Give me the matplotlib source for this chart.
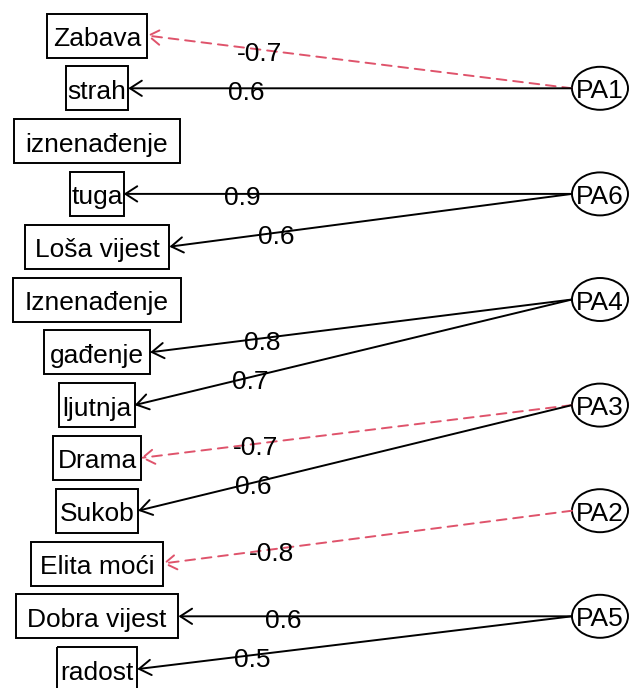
import matplotlib
matplotlib.use("Agg")
import matplotlib.pyplot as plt
from matplotlib.patches import Rectangle, Ellipse
import numpy as np

# ---- data ----
variables = ["Zabava", "strah", "iznenađenje", "tuga", "Loša vijest", "Iznenađenje",
             "gađenje", "ljutnja", "Drama", "Sukob", "Elita moći", "Dobra vijest", "radost"]
factors = ["PA1", "PA6", "PA4", "PA3", "PA2", "PA5"]
edge_factor = ["PA1", "PA1", "PA6", "PA6", "PA4", "PA4", "PA3", "PA3", "PA2", "PA5", "PA5"]
edge_variable = ["Zabava", "strah", "tuga", "Loša vijest", "gađenje", "ljutnja",
                 "Drama", "Sukob", "Elita moći", "Dobra vijest", "radost"]
edge_loading = [-0.7, 0.6, 0.9, 0.6, 0.8, 0.7, -0.7, 0.6, -0.8, 0.6, 0.5]

# ---- layout / style ----
W, H = 632, 688
FONT = "Liberation Sans"
FS = 19
var_x = 97.0
fac_x = 600.0
y0, dy = 35.5, 52.8
ell_w, ell_h = 56, 43
box_half_h = 22
neg_color = "#DF536B"
label_frac = 0.265
LW = 1.4

fig = plt.figure(figsize=(W / 100, H / 100), dpi=100)
ax = fig.add_axes([0, 0, 1, 1])
ax.set_xlim(0, W)
ax.set_ylim(H, 0)
ax.axis("off")
renderer = fig.canvas.get_renderer()

var_y = {v: y0 + dy * i for i, v in enumerate(variables)}
f_scale = (len(variables) + 1) / (len(factors) + 1)
fac_y = {f: y0 + dy * (f_scale * (k + 1) - 1) for k, f in enumerate(factors)}

# variable boxes
box_right = {}
for v in variables:
    y = var_y[v]
    t = ax.text(var_x, y + 10.5, v, ha="center", va="baseline", fontsize=FS,
                family=FONT, color="black")
    tw = t.get_window_extent(renderer).width
    half = max(0.624 * tw - 5.5, 24)
    ax.add_patch(Rectangle((var_x - half, y - box_half_h), 2 * half, 2 * box_half_h,
                           fill=False, edgecolor="black", lw=LW))
    box_right[v] = var_x + half

# factor ellipses
for f in factors:
    y = fac_y[f]
    ax.add_patch(Ellipse((fac_x, y), ell_w, ell_h, fill=False, edgecolor="black", lw=LW))
    ax.text(fac_x, y + 10, f, ha="center", va="baseline", fontsize=FS, family=FONT,
            color="black")

# edges
for f, v, l in zip(edge_factor, edge_variable, edge_loading):
    x1, y1 = fac_x - ell_w / 2, fac_y[f]
    x2, y2 = box_right[v], var_y[v]
    neg = l < 0
    col = neg_color if neg else "black"
    ls = (0, (5, 3.5)) if neg else "-"
    ax.annotate("", xy=(x2, y2), xytext=(x1, y1),
                arrowprops=dict(arrowstyle="->,head_length=0.85,head_width=0.55",
                                mutation_scale=10, color=col, lw=LW, linestyle=ls,
                                shrinkA=0, shrinkB=0))
    lx = x2 + label_frac * (x1 - x2)
    ly = y2 + label_frac * (y1 - y2)
    ax.text(lx, ly + 11.5, f"{l:g}", ha="center", va="baseline", fontsize=FS,
            family=FONT, color="black")

fig.savefig("out.png", dpi=100)
